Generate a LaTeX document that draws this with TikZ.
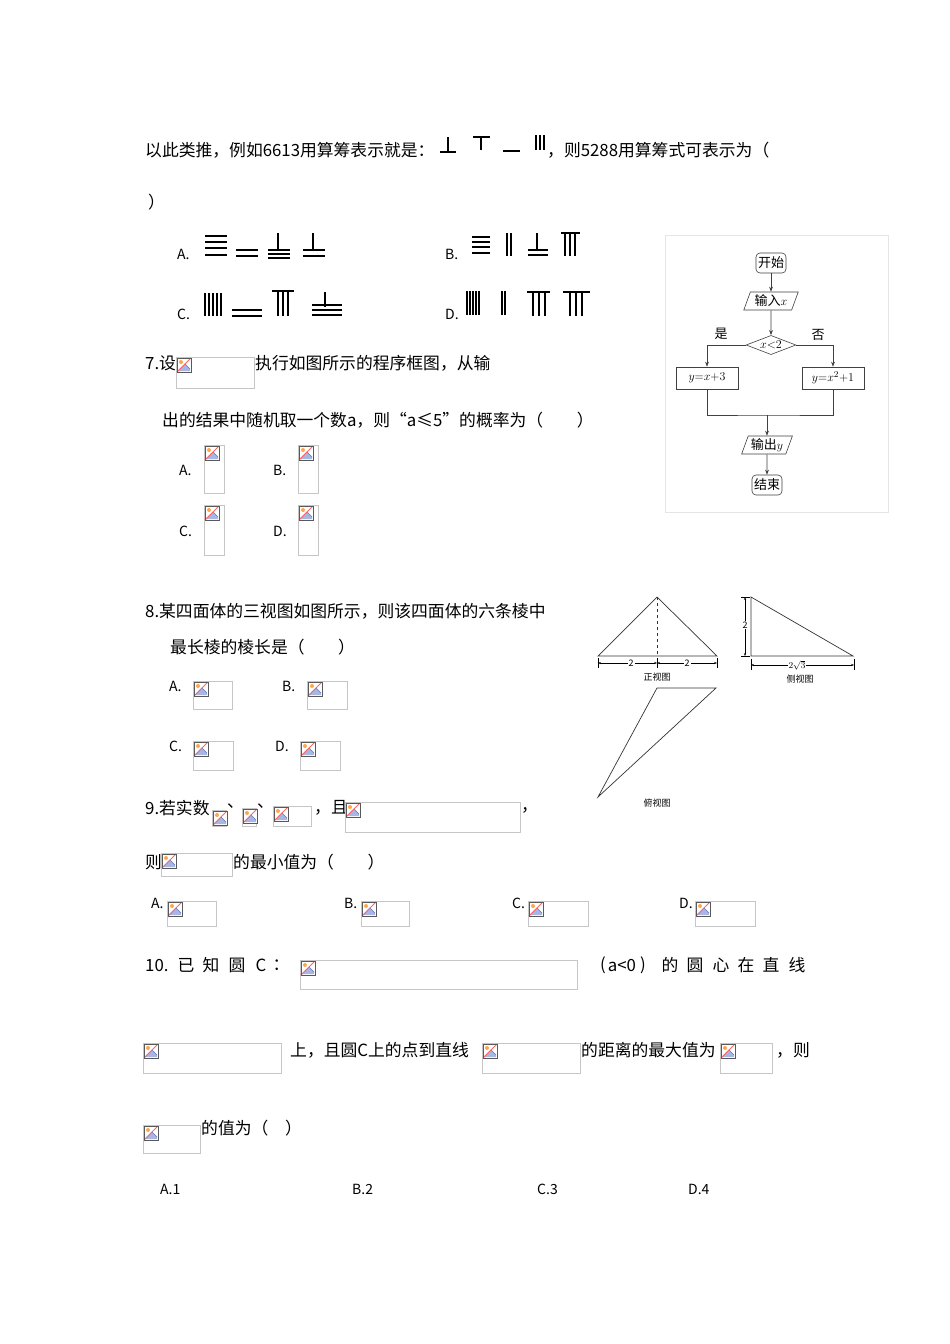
\documentclass[tikz,border=0pt]{standalone}
\usepackage{fontspec}
\setmainfont{Noto Sans CJK SC}
\usetikzlibrary{shapes.geometric,arrows.meta}
\newcommand\ph[4]{%
  \draw[gray!45,line width=0.8pt] (#1,#2) rectangle (#3,#4);
  \begin{scope}[shift={(#1+1,#2+1)}]
    \fill[white] (0,0) rectangle (14,14);
    \fill[cyan!40!blue!35] (1,13)--(8,6)--(13,11)--(13,13)--cycle;
    \draw[cyan!30!blue!70,line width=0.5pt] (1,13)--(8,6)--(13,11);
    \fill[orange!70] (4,4) circle (2);
    \draw[red!60,line width=0.8pt] (0,14)--(14,0);
    \draw[gray!70!black,line width=0.6pt] (0,0) rectangle (14,14);
  \end{scope}}
\tikzset{
  txt/.style={anchor=west,inner sep=0pt,font=\fontsize{16.8}{18}\selectfont},
  ctxt/.style={inner sep=0pt,font=\fontsize{16.8}{18}\selectfont},
  rod/.style={line width=2pt},
  fc/.style={draw=black!75,line width=0.6pt,font=\fontsize{13}{15}\selectfont,inner sep=2pt},
  rbox/.style={fc,rounded corners=4pt,minimum height=20pt},
  pbox/.style={fc,trapezium,trapezium left angle=70,trapezium right angle=110,minimum height=18pt},
  dec/.style={fc,diamond,aspect=2.6,inner sep=1pt},
  sbox/.style={fc,rectangle,minimum width=62pt,minimum height=22pt},
  arr/.style={draw=black!75,line width=0.6pt,-{Stealth[length=5pt]}},
  ln/.style={draw=black!75,line width=0.6pt},
  tv/.style={line width=0.7pt,draw=black!80},
  vcap/.style={font=\fontsize{9}{10}\selectfont,inner sep=0pt},
  opt/.style={anchor=west,inner sep=0pt,font=\fontsize{14}{15}\selectfont}
}
\begin{document}
\begin{tikzpicture}[x=1pt,y=-1pt]
\useasboundingbox[fill=white] (0,0) rectangle (950,1344);
% line 1
\node[txt] (l1) at (145,150) {以此类推，例如6613用算筹表示就是：};
\draw[rod] (440,152)--(456,152) (448,137)--(448,152);
\draw[rod] (473,137)--(490,137) (481,137)--(481,150);
\draw[rod] (503,151)--(520,151);
\draw[rod] (536,135)--(536,150) (540,135)--(540,150) (544,135)--(544,150);
\node[txt] (l1b) at (547,150) {，则5288用算筹式可表示为（};
\node[txt] (l2) at (148,202) {）};
% options rods
\node[opt] (oa) at (177,254) {A.};
\node[opt] (ob) at (445,254) {B.};
\node[opt] (oc) at (177,314) {C.};
\node[opt] (od) at (445,314) {D.};
\draw[rod] (205,236)--(227,236) (205,242)--(227,242) (205,248)--(227,248) (205,255)--(227,255);
\draw[rod] (236,250)--(258,250) (236,256)--(258,256);
\draw[rod] (278,233)--(278,250) (268,250)--(290,250) (268,254)--(290,254) (268,258)--(290,258);
\draw[rod] (313,233)--(313,250) (303,250)--(325,250) (303,256)--(325,256);
\draw[rod] (472,237)--(490,237) (472,242)--(490,242) (472,247)--(490,247) (472,253)--(490,253);
\draw[rod] (507,233)--(507,256) (511,233)--(511,256);
\draw[rod] (537,233)--(537,250) (528,250)--(548,250) (528,255)--(548,255);
\draw[rod] (561,233)--(580,233) (565,233)--(565,256) (570,233)--(570,256) (575,233)--(575,256);
\draw[rod] (205,293)--(205,316) (209,293)--(209,316) (213,293)--(213,316) (217,293)--(217,316) (221,293)--(221,316);
\draw[rod] (232,310)--(262,310) (232,316)--(262,316);
\draw[rod] (272,291)--(294,291) (278,291)--(278,316) (283,291)--(283,316) (288,291)--(288,316);
\draw[rod] (325,292)--(325,307) (312,305)--(342,305) (312,310)--(342,310) (312,315)--(342,315);
\draw[rod] (467,291)--(467,315) (470,291)--(470,315) (473,291)--(473,315) (476,291)--(476,315) (479,291)--(479,315);
\draw[rod] (502,291)--(502,315) (505,291)--(505,315);
\draw[rod] (527,292)--(550,292) (533,292)--(533,316) (539,292)--(539,316) (545,292)--(545,316);
\draw[rod] (563,292)--(590,292) (570,292)--(570,316) (576,292)--(576,316) (582,292)--(582,316);
% flowchart
\draw[gray!20] (665,235) rectangle (888,512);
\node[rbox] (st) at (771,263) {开始};
\node[pbox] (in) at (771,301) {输入$x$};
\node[dec] (dc) at (771,345) {$x{<}2$};
\node[sbox] (lb) at (707,378) {$y{=}x{+}3$};
\node[sbox] (rb) at (833,378) {$y{=}x^2{+}1$};
\node[pbox] (out) at (767,445) {输出$y$};
\node[rbox] (en) at (767,485) {结束};
\coordinate (mg) at (767,415);
\draw[arr] (st)--(in);
\draw[arr] (in)--(dc);
\draw[arr] (dc.west) -| (lb.north);
\draw[arr] (dc.east) -| (rb.north);
\node[font=\fontsize{13}{15}\selectfont] (yes) at (721,334) {是};
\node[font=\fontsize{13}{15}\selectfont] (no) at (818,335) {否};
\draw[ln] (lb.south) |- (mg) -| (rb.south);
\draw[arr] (mg)--(out);
\draw[arr] (out)--(en);
% Q7
\node[txt] (q7) at (145,363) {7.设};
\ph{176}{357}{254}{388}
\node[txt] (q7b) at (255,363) {执行如图所示的程序框图，从输};
\node[txt] (q7c) at (162,420) {出的结果中随机取一个数a，则“a≤5”的概率为（　　）};
\node[opt] (a7) at (179,470) {A.};
\ph{204}{445}{224}{493}
\node[opt] (b7) at (273,470) {B.};
\ph{298}{445}{318}{493}
\node[opt] (c7) at (179,531) {C.};
\ph{204}{505}{224}{555}
\node[opt] (d7) at (273,531) {D.};
\ph{298}{505}{318}{555}
% Q8
\node[txt] (q8) at (145,611) {8.某四面体的三视图如图所示，则该四面体的六条棱中};
\node[txt] (q8b) at (170,647) {最长棱的棱长是（　　）};
\node[opt] (a8) at (169,686) {A.};
\ph{193}{681}{232}{709}
\node[opt] (b8) at (282,686) {B.};
\ph{307}{681}{347}{709}
\node[opt] (c8) at (169,746) {C.};
\ph{193}{741}{233}{770}
\node[opt] (d8) at (275,746) {D.};
\ph{300}{741}{340}{770}
% three views
\draw[tv] (598,656)--(657,597)--(717,656)--cycle;
\draw[tv,dashed] (657,597)--(657,656);
\draw[line width=0.5pt] (598,658)--(598,668) (657,658)--(657,668) (717,658)--(717,668);
\draw[line width=0.5pt,{Stealth[length=3pt]}-{Stealth[length=3pt]}] (598,663)--(657,663);
\draw[line width=0.5pt,{Stealth[length=3pt]}-{Stealth[length=3pt]}] (657,663)--(717,663);
\node[vcap,fill=white,inner sep=1pt] (d1) at (631,663) {2};
\node[vcap,fill=white,inner sep=1pt] (d2) at (687,663) {2};
\node[vcap] (zv) at (657,677) {正视图};
\draw[tv] (751,597)--(751,656)--(853,656)--cycle;
\draw[line width=0.5pt] (741,597)--(750,597) (741,656)--(750,656);
\draw[line width=0.5pt,{Stealth[length=3pt]}-{Stealth[length=3pt]}] (745,597)--(745,656);
\node[vcap,fill=white,inner sep=1pt] (d3) at (745,625) {2};
\draw[line width=0.5pt] (751,659)--(751,670) (854,659)--(854,670);
\draw[line width=0.5pt,{Stealth[length=3pt]}-{Stealth[length=3pt]}] (751,665)--(854,665);
\node[vcap,fill=white,inner sep=1pt] (d4) at (797,665) {$2\sqrt3$};
\node[vcap] (cv) at (800,679) {侧视图};
\draw[tv] (657,688)--(716,688)--(598,797)--cycle;
\node[vcap] (fv) at (657,803) {俯视图};
% Q9
\node[txt] (q9) at (145,808) {9.若实数};
\ph{212}{810}{226}{826}
\node[txt] (dn1) at (227,806) {、};
\ph{242}{808}{256}{826}
\node[txt] (dn2) at (257,806) {、};
\ph{273}{806}{311}{826}
\node[txt] (q9b) at (314,808) {，且};
\ph{345}{802}{520}{832}
\node[txt] (q9c) at (521,810) {，};
\node[txt] (q9d) at (145,862) {则};
\ph{161}{853}{232}{876}
\node[txt] (q9e) at (233,862) {的最小值为（　　）};
\node[opt] (a9) at (151,903) {A.};
\ph{167}{901}{216}{926}
\node[opt] (b9) at (344,903) {B.};
\ph{361}{901}{409}{926}
\node[opt] (c9) at (512,903) {C.};
\ph{528}{901}{588}{926}
\node[opt] (d9) at (679,903) {D.};
\ph{695}{901}{755}{926}
% Q10
\node[txt] (q10) at (145,965) {10.};
\node[ctxt] (k1) at (186,965) {已};
\node[ctxt] (k2) at (211,965) {知};
\node[ctxt] (k3) at (237,965) {圆};
\node[ctxt] (k4) at (261,965) {C};
\node[ctxt] (k5) at (281,965) {：};
\ph{300}{960}{577}{989}
\node[ctxt] (r1) at (603,965) {(};
\node[ctxt] (r2) at (622,965) {a<0};
\node[ctxt] (r3) at (643,965) {)};
\node[ctxt] (r4) at (670,965) {的};
\node[ctxt] (r5) at (695,965) {圆};
\node[ctxt] (r6) at (721,965) {心};
\node[ctxt] (r7) at (746,965) {在};
\node[ctxt] (r8) at (771,965) {直};
\node[ctxt] (r9) at (797,965) {线};
\ph{143}{1043}{281}{1073}
\node[txt] (q10c) at (290,1050) {上，且圆C上的点到直线};
\ph{482}{1043}{580}{1073}
\node[txt] (q10d) at (581,1050) {的距离的最大值为};
\ph{720}{1043}{772}{1073}
\node[txt] (q10e) at (776,1050) {，则};
\ph{143}{1125}{200}{1153}
\node[txt] (q10f) at (201,1128) {的值为（　）};
\node[opt] (a10) at (160,1189) {A.1};
\node[opt] (b10) at (352,1189) {B.2};
\node[opt] (c10) at (537,1189) {C.3};
\node[opt] (d10) at (688,1189) {D.4};
\end{tikzpicture}
\end{document}
